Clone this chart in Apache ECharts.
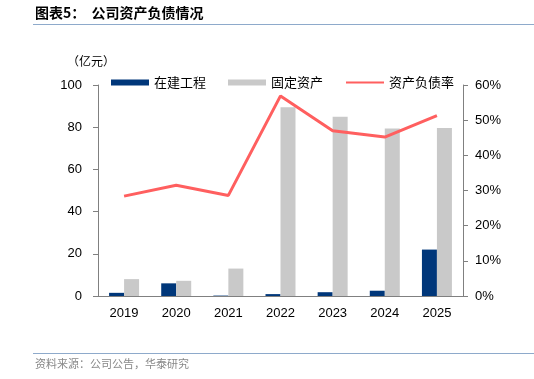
<!DOCTYPE html>
<html>
<head>
<meta charset="utf-8">
<script src="https://cdn.jsdelivr.net/npm/echarts@6/dist/echarts.min.js"></script>
<style>
  html, body { margin: 0; padding: 0; background: #fff; }
  #chart { width: 534px; height: 379px; }
</style>
</head>
<body>
<div id="chart"></div>
<script>
// 数据
var years = ['2019', '2020', '2021', '2022', '2023', '2024', '2025'];
var zaijian = [1.5, 6.0, 0.2, 0.9, 1.8, 2.5, 22.0];       // 在建工程 (亿元)
var guding = [8.0, 7.2, 13.0, 89.5, 84.9, 79.4, 79.6];    // 固定资产 (亿元)
var fuzhailv = [28.4, 31.5, 28.6, 56.9, 47.0, 45.2, 51.3]; // 资产负债率 (%)

var cnFont = '"Noto Sans CJK SC", sans-serif';
var numFont = '"Liberation Sans", Arial, sans-serif';

var myChart = echarts.init(document.getElementById('chart'));

var option = {
  animation: false,
  grid: { left: 98, right: 71, top: 85, bottom: 83 },
  graphic: [
    { type: 'text', left: 35, top: 6,
      style: { text: '图表5：  公司资产负债情况', font: 'bold 14px ' + cnFont, fill: '#000' } },
    { type: 'line', shape: { x1: 33, y1: 24.5, x2: 534, y2: 24.5 },
      style: { stroke: '#8eaacb', lineWidth: 1 } },
    { type: 'text', left: 67, top: 55,
      style: { text: '（亿元）', font: '12px ' + cnFont, fill: '#000' } },
    { type: 'line', shape: { x1: 33, y1: 353.5, x2: 534, y2: 353.5 },
      style: { stroke: '#8eaacb', lineWidth: 1 } },
    { type: 'text', left: 35, top: 358,
      style: { text: '资料来源：公司公告，华泰研究', font: '11px ' + cnFont, fill: '#888' } }
  ],
  legend: {
    left: 106, top: 71,
    itemWidth: 38, itemHeight: 6, itemGap: 22,
    textStyle: { fontFamily: cnFont, fontSize: 13, color: '#000' },
    data: [
      { name: '在建工程', icon: 'rect' },
      { name: '固定资产', icon: 'rect' },
      { name: '资产负债率', itemStyle: { opacity: 0 } }
    ]
  },
  xAxis: {
    type: 'category',
    data: years,
    axisLine: { lineStyle: { color: '#808080' } },
    axisTick: { lineStyle: { color: '#808080' }, length: 5 },
    axisLabel: { color: '#000', fontFamily: numFont, fontSize: 13, margin: 11 }
  },
  yAxis: [
    {
      type: 'value', min: 0, max: 100, interval: 20,
      splitLine: { show: false },
      axisLine: { show: true, lineStyle: { color: '#808080' } },
      axisTick: { show: true, lineStyle: { color: '#808080' }, length: 5 },
      axisLabel: { color: '#000', fontFamily: numFont, fontSize: 13, margin: 16 }
    },
    {
      type: 'value', min: 0, max: 60, interval: 10,
      splitLine: { show: false },
      axisLine: { show: true, lineStyle: { color: '#808080' } },
      axisTick: { show: true, lineStyle: { color: '#808080' }, length: 5 },
      axisLabel: { color: '#000', fontFamily: numFont, fontSize: 13, margin: 12, formatter: '{value}%' }
    }
  ],
  series: [
    {
      name: '在建工程', type: 'bar', data: zaijian,
      barWidth: 15, barGap: '0%',
      itemStyle: { color: '#00377a' }
    },
    {
      name: '固定资产', type: 'bar', data: guding,
      barWidth: 15,
      itemStyle: { color: '#c9c9c9' }
    },
    {
      name: '资产负债率', type: 'line', yAxisIndex: 1, data: fuzhailv,
      symbol: 'none',
      lineStyle: { color: '#ff5f5f', width: 3 },
      itemStyle: { color: '#ff5f5f' }
    }
  ]
};

myChart.setOption(option);
</script>
</body>
</html>
